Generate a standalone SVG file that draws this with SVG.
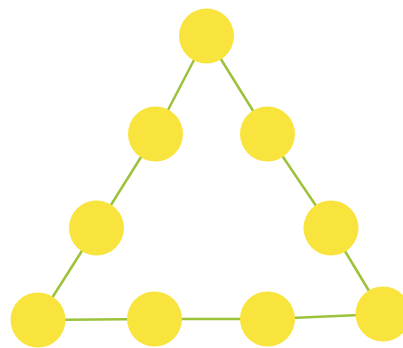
<svg xmlns="http://www.w3.org/2000/svg" width="403" height="348" viewBox="0 0 403 348">
<style>
.edge{stroke:#9cc23a;stroke-width:2.5;fill:none}
.node{fill:#f9e43e}
</style>
<rect width="403" height="348" fill="#ffffff"/>
<g id="connectors">
<line class="edge" x1="206.5" y1="36" x2="155.5" y2="134"/>
<line class="edge" x1="155.5" y1="134" x2="96.5" y2="228"/>
<line class="edge" x1="96.5" y1="228" x2="38" y2="320"/>
<line class="edge" x1="206.5" y1="36" x2="267.5" y2="134"/>
<line class="edge" x1="267.5" y1="134" x2="331" y2="228"/>
<line class="edge" x1="331" y1="228" x2="383" y2="314"/>
<line class="edge" x1="38" y1="320" x2="154.5" y2="319"/>
<line class="edge" x1="154.5" y1="319" x2="267.5" y2="319"/>
<line class="edge" x1="267.5" y1="319" x2="383" y2="314"/>
</g>
<g id="n1"><circle class="node" cx="206.5" cy="36" r="27.5"/></g>
<g id="n2"><circle class="node" cx="155.5" cy="134" r="27.5"/></g>
<g id="n3"><circle class="node" cx="267.5" cy="134" r="27.5"/></g>
<g id="n4"><circle class="node" cx="96.5" cy="228" r="27.5"/></g>
<g id="n5"><circle class="node" cx="331" cy="228" r="27.5"/></g>
<g id="n6"><circle class="node" cx="38" cy="320" r="27.5"/></g>
<g id="n7"><circle class="node" cx="154.5" cy="319" r="27.5"/></g>
<g id="n8"><circle class="node" cx="267.5" cy="319" r="27.5"/></g>
<g id="n9"><circle class="node" cx="383" cy="314" r="27.5"/></g>
</svg>
